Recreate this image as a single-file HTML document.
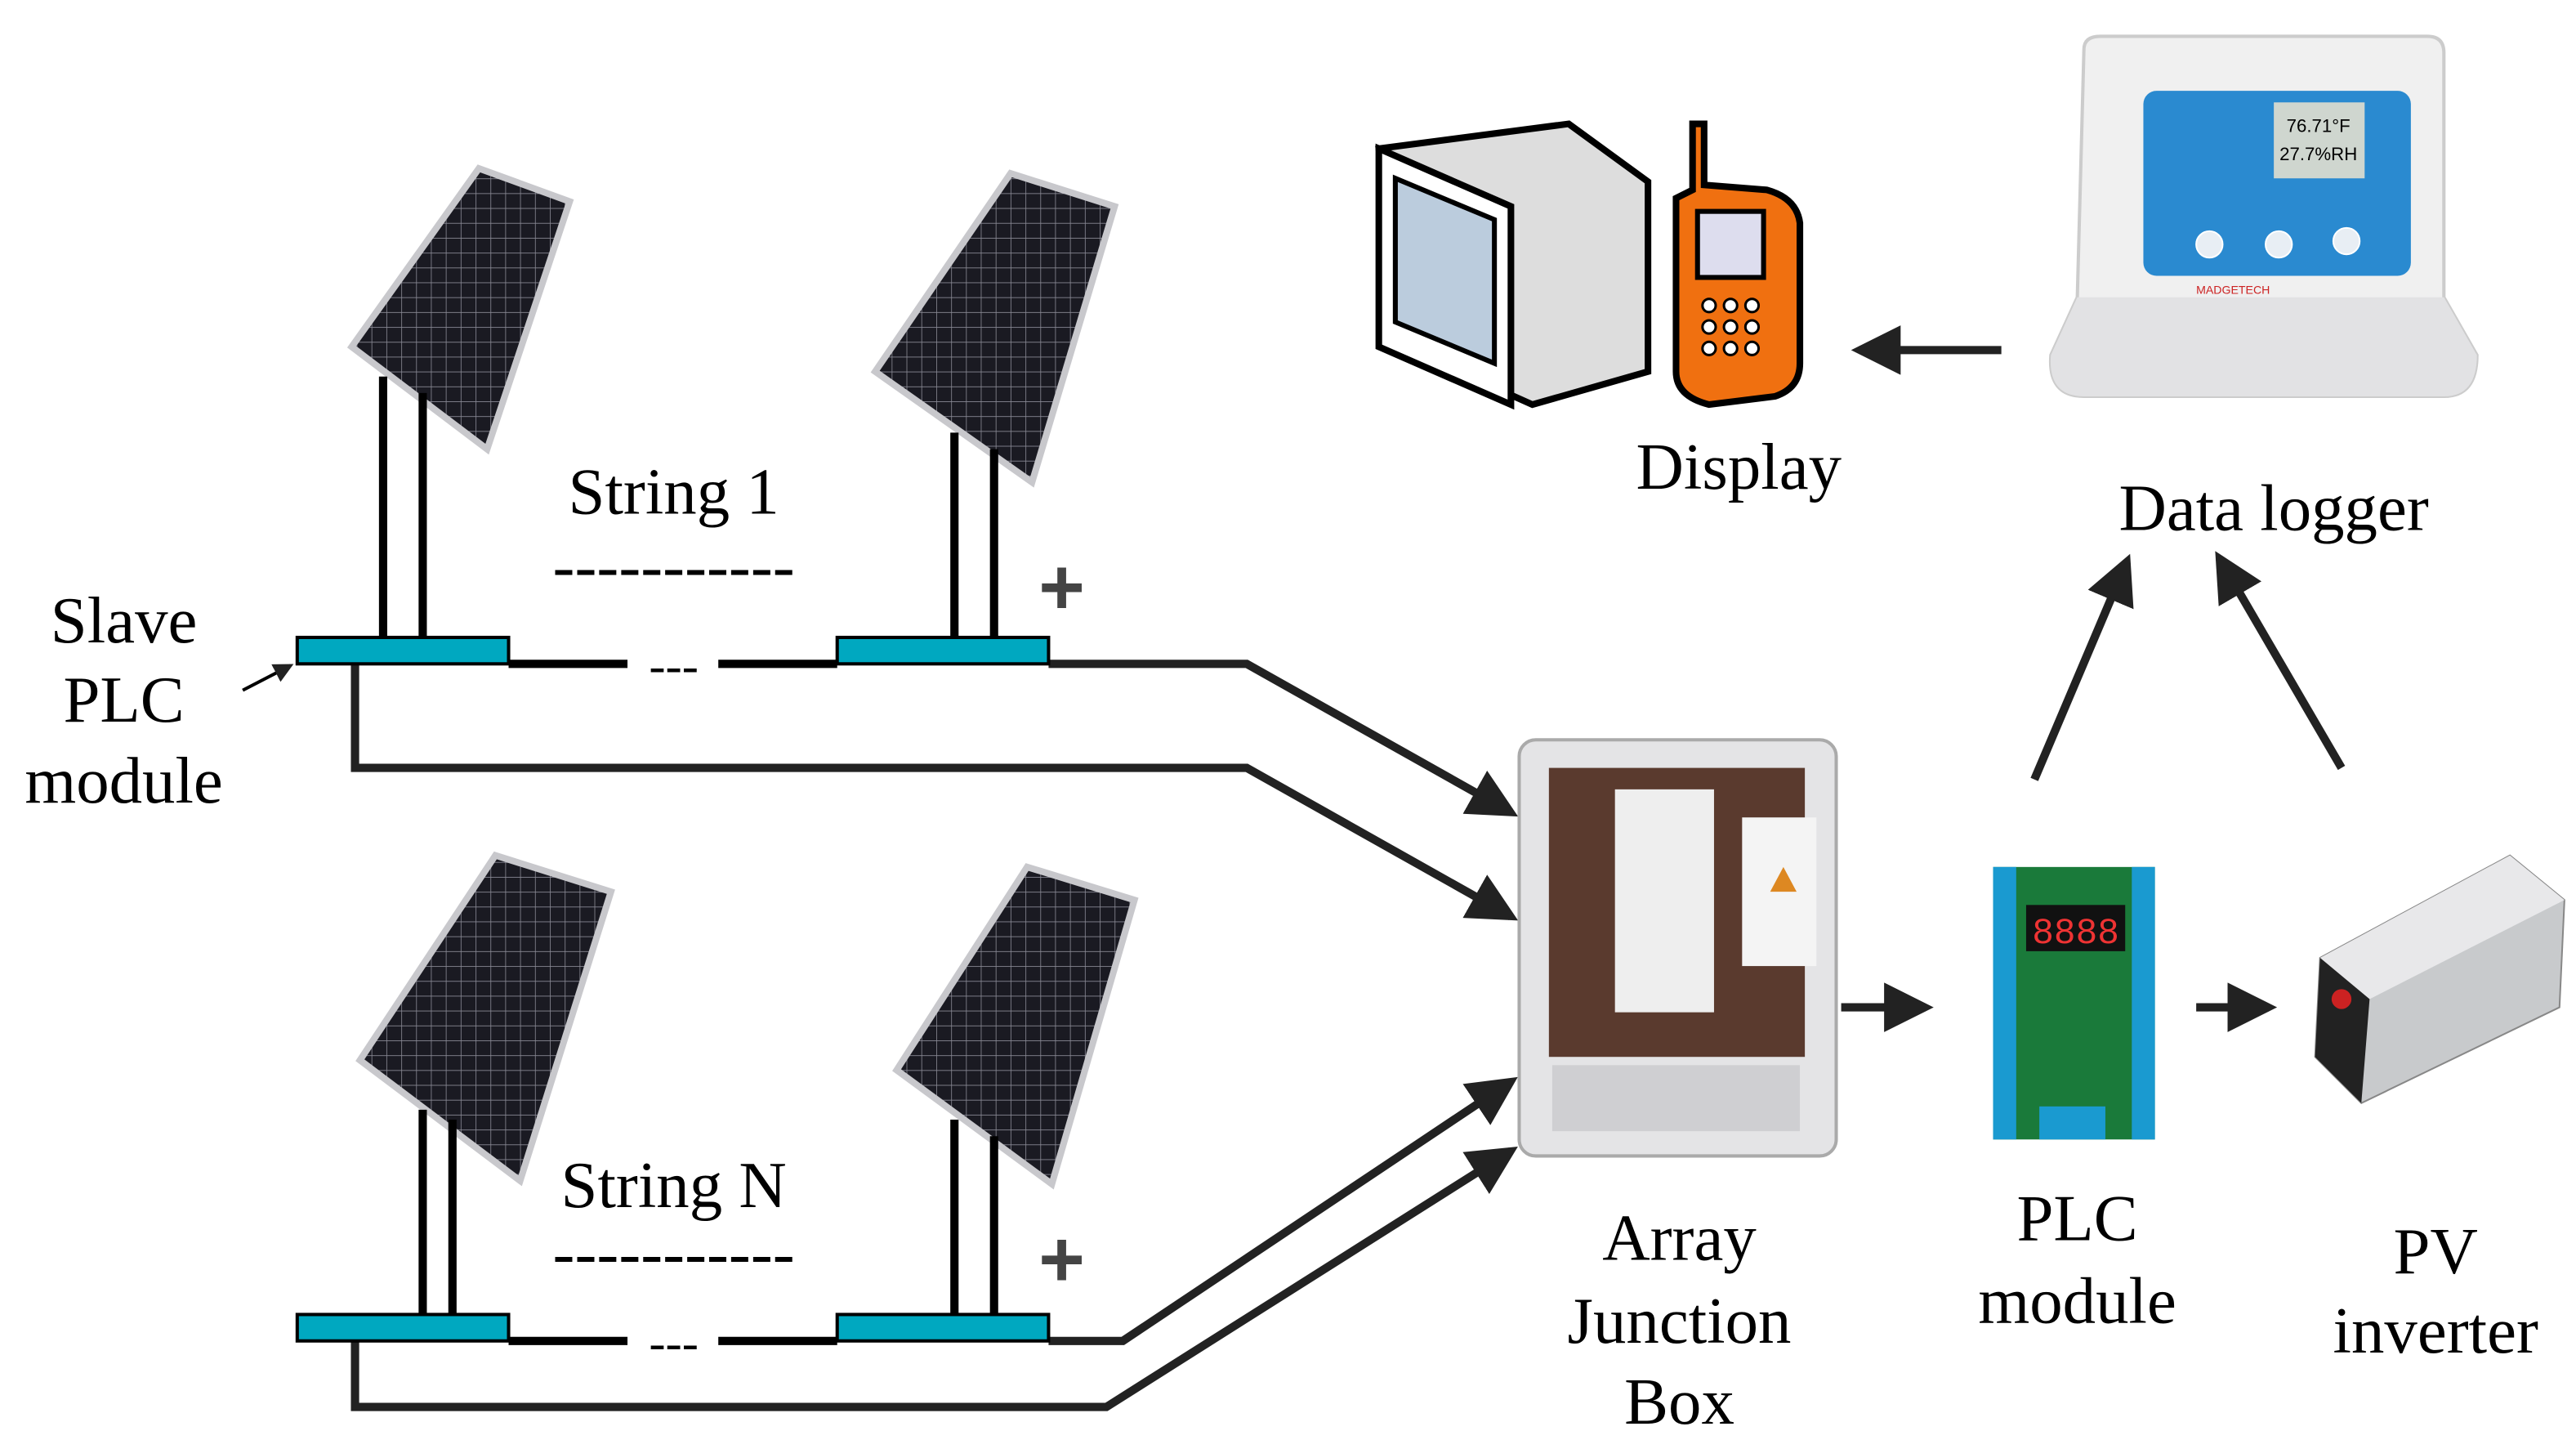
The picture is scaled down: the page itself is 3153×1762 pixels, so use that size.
<!DOCTYPE html>
<html><head><meta charset="utf-8"><style>html,body{margin:0;padding:0;background:#fff}svg{display:block}</style></head>
<body>
<svg width="3153" height="1762" viewBox="0 0 1560 872" preserveAspectRatio="none" xmlns="http://www.w3.org/2000/svg" font-family="Liberation Serif, serif">
<defs>
<marker id="ah" markerWidth="6" markerHeight="6" refX="5" refY="3" orient="auto" markerUnits="strokeWidth"><path d="M0,0 L6,3 L0,6 z" fill="#222"/></marker>
<pattern id="cells" width="9" height="9" patternUnits="userSpaceOnUse"><rect width="9" height="9" fill="#1a1a22"/><path d="M0,0H9M0,0V9" stroke="#8a8a95" stroke-width="0.8"/></pattern>
</defs>
<rect width="1560" height="872" fill="#fff"/>
<!-- panels -->
<g stroke="#c8c8cc" stroke-width="4">
<polygon points="213,210 290,102 345,122 295,272" fill="url(#cells)"/>
<polygon points="530,225 612,105 675,125 625,292" fill="url(#cells)"/>
<polygon points="218,642 300,518 370,540 315,715" fill="url(#cells)"/>
<polygon points="543,648 622,525 687,545 637,717" fill="url(#cells)"/>
</g>
<!-- poles -->
<g stroke="#000" stroke-width="5">
<line x1="232" y1="228" x2="232" y2="388"/><line x1="256" y1="238" x2="256" y2="388"/>
<line x1="578" y1="262" x2="578" y2="388"/><line x1="602" y1="272" x2="602" y2="388"/>
<line x1="256" y1="672" x2="256" y2="798"/><line x1="274" y1="678" x2="274" y2="798"/>
<line x1="578" y1="678" x2="578" y2="798"/><line x1="602" y1="688" x2="602" y2="798"/>
</g>
<!-- wires -->
<g stroke="#000" stroke-width="5" fill="none">
<path d="M308,402H380M435,402H507"/>
<path d="M635,402H755L915,492" marker-end="url(#ah)" stroke="#222"/>
<path d="M215,402V465H755L915,555" marker-end="url(#ah)" stroke="#222"/>
<path d="M308,812H380M435,812H507"/>
<path d="M635,812H680L915,655" marker-end="url(#ah)" stroke="#222"/>
<path d="M215,812V852H670L915,697" marker-end="url(#ah)" stroke="#222"/>
</g>
<g fill="#00a8c0" stroke="#000" stroke-width="2">
<rect x="180" y="386" width="128" height="16"/><rect x="507" y="386" width="128" height="16"/>
<rect x="180" y="796" width="128" height="16"/><rect x="507" y="796" width="128" height="16"/>
</g>
<g font-size="40" fill="#000" text-anchor="middle">
<text x="408" y="413" font-size="30">---</text>
<text x="408" y="823" font-size="30">---</text>
<text x="408" y="311">String 1</text>
<text x="408" y="356">-----------</text>
<text x="408" y="731">String N</text>
<text x="408" y="772">-----------</text>
<text x="75" y="389">Slave</text><text x="75" y="437">PLC</text><text x="75" y="486">module</text>
<text x="1017" y="763">Array</text><text x="1017" y="813">Junction</text><text x="1017" y="862">Box</text>
<text x="1258" y="751">PLC</text><text x="1258" y="801">module</text>
<text x="1475" y="771">PV</text><text x="1475" y="819">inverter</text>
<text x="1377" y="321">Data logger</text>
<text x="1053" y="296">Display</text>
</g>
<g font-size="48" fill="#444" font-family="Liberation Sans,sans-serif" font-weight="bold" text-anchor="middle">
<text x="643" y="372">+</text><text x="643" y="779">+</text>
</g>
<line x1="147" y1="418" x2="176" y2="403" stroke="#000" stroke-width="2" marker-end="url(#ah)"/>
<!-- junction box -->
<rect x="920" y="448" width="192" height="252" rx="10" fill="#e4e4e6" stroke="#aaa" stroke-width="2"/>
<rect x="938" y="465" width="155" height="175" fill="#5a3a2e"/>
<rect x="978" y="478" width="60" height="135" fill="#eee"/>
<rect x="1055" y="495" width="45" height="90" fill="#f4f4f4"/>
<polygon points="1072,540 1080,525 1088,540" fill="#d82"/>
<rect x="940" y="645" width="150" height="40" fill="#cfcfd2"/>
<!-- arrows middle -->
<g stroke="#222" stroke-width="5" fill="none">
<line x1="1115" y1="610" x2="1166" y2="610" marker-end="url(#ah)"/>
<line x1="1330" y1="610" x2="1374" y2="610" marker-end="url(#ah)"/>
<line x1="1232" y1="472" x2="1288" y2="340" marker-end="url(#ah)"/>
<line x1="1418" y1="465" x2="1344" y2="338" marker-end="url(#ah)"/>
<line x1="1212" y1="212" x2="1126" y2="212" marker-end="url(#ah)"/>
</g>
<!-- PLC board -->
<rect x="1207" y="525" width="98" height="165" fill="#1a7a3a"/>
<rect x="1207" y="525" width="14" height="165" fill="#1a9ad0"/><rect x="1291" y="525" width="14" height="165" fill="#1a9ad0"/>
<rect x="1227" y="548" width="60" height="28" fill="#111"/>
<text x="1257" y="571" font-size="22" fill="#e33" text-anchor="middle" font-family="Liberation Mono,monospace">8888</text>
<rect x="1235" y="670" width="40" height="20" fill="#1a9ad0"/>
<!-- inverter -->
<polygon points="1405,580 1520,518 1553,545 1550,610 1430,668 1402,640" fill="#c8cacc" stroke="#888"/>
<polygon points="1405,580 1520,518 1553,545 1435,605" fill="#e8e8ea"/>
<polygon points="1405,580 1435,605 1430,668 1402,640" fill="#222"/>
<circle cx="1418" cy="605" r="6" fill="#c22"/>
<!-- data logger -->
<path d="M1262,30 Q1262,22 1272,22 H1470 Q1480,22 1480,32 V180 L1500,215 Q1500,240 1480,240 H1262 Q1240,240 1242,215 L1258,180 Z" fill="#f0f0f0" stroke="#ccc" stroke-width="2"/>
<path d="M1258,180 L1242,215 Q1240,240 1262,240 H1480 Q1500,240 1500,215 L1480,180 Z" fill="#e2e2e4"/>
<rect x="1298" y="55" width="162" height="112" rx="8" fill="#2a8ad0"/>
<rect x="1377" y="62" width="55" height="46" fill="#cfd6cf"/>
<text x="1404" y="80" font-size="11" text-anchor="middle" font-family="Liberation Sans,sans-serif">76.71°F</text>
<text x="1404" y="97" font-size="11" text-anchor="middle" font-family="Liberation Sans,sans-serif">27.7%RH</text>
<g fill="#e8eef4" stroke="#fff"><circle cx="1338" cy="148" r="8"/><circle cx="1380" cy="148" r="8"/><circle cx="1421" cy="146" r="8"/></g>
<text x="1330" y="178" font-size="7" fill="#c22" font-family="Liberation Sans,sans-serif">MADGETECH</text>
<!-- monitor -->
<path d="M835,90 L950,75 L998,110 L998,225 L928,245 L850,210 Z" fill="#ddd" stroke="#000" stroke-width="4"/>
<polygon points="835,90 915,125 915,245 835,210" fill="#fff" stroke="#000" stroke-width="4"/>
<polygon points="845,108 905,133 905,220 845,195" fill="#bcd" stroke="#000" stroke-width="3"/>
<!-- phone -->
<path d="M1025,75 V115 L1015,120 L1015,225 Q1015,240 1035,245 L1075,240 Q1090,235 1090,220 L1090,135 Q1088,120 1070,115 L1032,112 V75 Z" fill="#f07010" stroke="#000" stroke-width="4"/>
<rect x="1028" y="128" width="40" height="40" fill="#dde" stroke="#000" stroke-width="3"/>
<g fill="#fff" stroke="#000" stroke-width="1.5">
<circle cx="1035" cy="185" r="4"/><circle cx="1048" cy="185" r="4"/><circle cx="1061" cy="185" r="4"/>
<circle cx="1035" cy="198" r="4"/><circle cx="1048" cy="198" r="4"/><circle cx="1061" cy="198" r="4"/>
<circle cx="1035" cy="211" r="4"/><circle cx="1048" cy="211" r="4"/><circle cx="1061" cy="211" r="4"/>
</g>
</svg>
</body></html>
